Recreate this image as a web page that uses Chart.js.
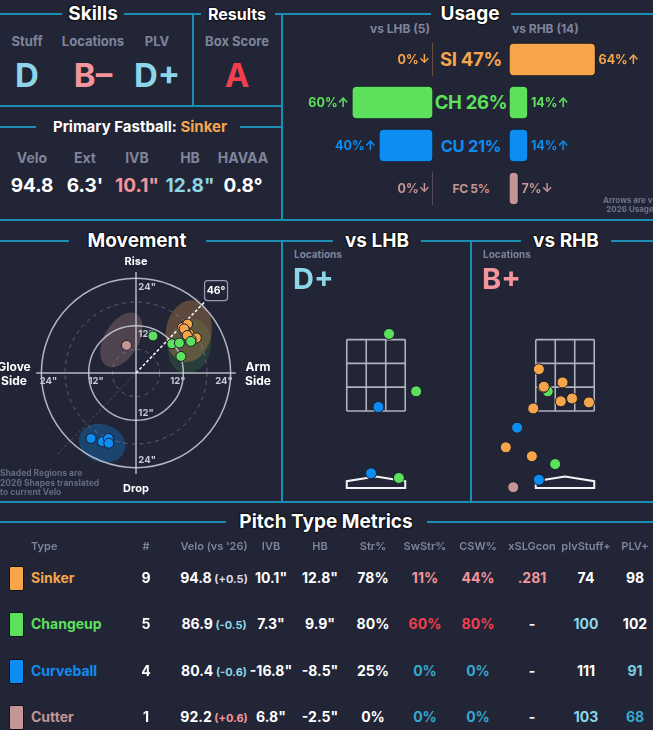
<!DOCTYPE html>
<html>
<head>
<meta charset="utf-8">
<script src="https://cdn.jsdelivr.net/npm/chart.js@4.4.1/dist/chart.umd.min.js"></script>
<style>
  body { margin: 0; background: #222536; font-family: Inter, 'DejaVu Sans', sans-serif; }
  #page { position: relative; width: 653px; height: 730px; overflow: hidden; background: #222536; }
  .hl { position: absolute; height: 2px; background: #1a8fb3; }
  .vl { position: absolute; width: 2px; background: #1a8fb3; }
  .t { position: absolute; white-space: nowrap; font-weight: 700; line-height: 1.15; }
  .ttl { text-shadow: 0 0 2px #000, 0 0 2px #000, 0 0 1px #000; }
  canvas { position: absolute; }
</style>
</head>
<body>
<div id="page">
  <canvas id="usageLeft" width="150" height="172" style="left:283px;top:38px"></canvas>
  <canvas id="usageRight" width="144" height="172" style="left:509px;top:38px"></canvas>
  <canvas id="movementChart" width="224" height="224" style="left:24px;top:261px"></canvas>
  <canvas id="locLHB" width="178" height="210" style="left:287px;top:290px"></canvas>
  <canvas id="locRHB" width="178" height="210" style="left:476px;top:290px"></canvas>
</div>
<script>
// ---- data ----
const pitchNames = ['Sinker', 'Changeup', 'Curveball', 'Cutter'];
const pitchAbbr = ['SI', 'CH', 'CU', 'FC'];
const pitchColors = ['#f6a54b', '#5de05c', '#0d8df2', '#c49595'];

const usageAll = [47, 26, 21, 5];
const usageLHB = [0, 60, 40, 0];
const usageRHB = [64, 14, 14, 7];
const arrowsLHB = ['↓', '↑', '↑', '↓'];
const arrowsRHB = ['↑', '↑', '↑', '↓'];

// movement (inches): horizontal break / induced vertical break per pitch
const mvSinkerHB = [11.8, 13.1, 12.4, 13.4, 12.6, 15.3, 14.0, 12.2, 13.0];
const mvSinkerIVB = [11.6, 12.4, 10.8, 10.0, 10.2, 8.9, 8.5, 11.2, 9.5];
const mvChangeHB = [4.3, 9.1, 11.0, 13.9, 11.4];
const mvChangeIVB = [9.4, 7.4, 7.6, 8.0, 4.2];
const mvCurveHB = [-11.4, -8.5, -7.0, -6.9];
const mvCurveIVB = [-16.6, -17.4, -16.6, -17.8];
const mvCutterHB = [-2.4];
const mvCutterIVB = [7.0];
const armAngle = 46;

// 2026 shapes (ellipses, inches)
const shapeCX = [-3.7, 13.6, 13.4, -8.6];
const shapeCY = [8.4, 6.8, 10.6, -17.8];
const shapeA = [7.6, 7.0, 7.9, 6.0];
const shapeB = [4.4, 5.4, 5.8, 4.8];
const shapeRot = [60, 75, 80, -20];
const shapeFill = ['rgba(196,149,149,0.28)', 'rgba(93,224,92,0.13)', 'rgba(246,165,75,0.28)', 'rgba(13,141,242,0.30)'];

// locations (feet): plate side / height, pitch index
const locLHBx = [0.37, 1.14, 0.07, -0.14, 0.65];
const locLHBz = [3.66, 2.05, 1.61, -0.25, -0.38];
const locLHBtype = [1, 1, 2, 2, 1];
const locRHBx = [-0.74, -0.07, -0.49, -0.62, -0.12, 0.20, 0.68, -0.90, -0.60, -1.36, -1.68, -0.94, -0.28, -0.74, -1.47];
const locRHBz = [2.67, 2.30, 2.05, 2.16, 1.77, 1.85, 1.74, 1.57, 2.18, 1.03, 0.48, 0.23, 0.01, -0.43, -0.64];
const locRHBtype = [0, 0, 1, 0, 0, 0, 0, 0, 0, 2, 0, 0, 1, 2, 3];

// table
const tblCount = [9, 5, 4, 1];
const tblVelo = [94.8, 86.9, 80.4, 92.2];
const tblVeloDiff = [0.5, -0.5, -0.6, 0.6];
const tblIVB = [10.1, 7.3, -16.8, 6.8];
const tblHB = [12.8, 9.9, -8.5, -2.5];
const tblStr = [78, 80, 25, 0];
const tblSwStr = [11, 60, 0, 0];
const tblCSW = [44, 80, 0, 0];
const tblXSLG = [0.281, null, null, null];
const tblStuff = [74, 100, 111, 103];
const tblPLV = [98, 102, 91, 68];

// ---- styles ----
const BG = '#222536';
const GRAY = '#7f849b';
const LBLUE = '#8dd6e8';
const PINK = '#f4959b';
const RED = '#f0404f';
const TEAL = '#35a9d0';
const tone = { w: '#ffffff', p: PINK, r: RED, t: TEAL, b: LBLUE, s: '#7ccbe0', g: '#dcdce4' };
const veloDiffTone = ['g', 'b', 'b', 'p'];
const swStrTone = ['p', 'r', 't', 't'];
const cswTone = ['p', 'r', 't', 't'];
const xslgTone = ['p', 'w', 'w', 'w'];
const stuffTone = ['w', 'b', 'w', 'b'];
const plvTone = ['w', 'w', 's', 't'];

const page = document.getElementById('page');

function addText(x, y, html, size, color, align, cls) {
  const d = document.createElement('div');
  d.className = 't' + (cls ? ' ' + cls : '');
  d.style.left = x + 'px';
  d.style.top = y + 'px';
  d.style.fontSize = size + 'px';
  d.style.color = color;
  const tx = align === 'left' ? '0' : align === 'right' ? '-100%' : '-50%';
  d.style.transform = `translate(${tx},-50%)`;
  d.innerHTML = html;
  page.appendChild(d);
  return d;
}

function hLine(y, x0, x1) {
  const d = document.createElement('div');
  d.className = 'hl';
  d.style.cssText = `left:${x0}px;top:${y - 1}px;width:${x1 - x0}px`;
  page.appendChild(d);
}

function vLine(x, y0, y1) {
  const d = document.createElement('div');
  d.className = 'vl';
  d.style.cssText = `left:${x - 1}px;top:${y0}px;height:${y1 - y0}px`;
  page.appendChild(d);
}

/**
 * Section frame lines and headings
 */
function initFrame() {
  [[0, 62], [124, 201], [275, 431], [511, 653]].forEach(s => hLine(14, s[0], s[1]));
  vLine(193, 14, 106);
  vLine(282, 14, 220);
  hLine(106, 0, 282);
  [[0, 36], [240, 282]].forEach(s => hLine(127, s[0], s[1]));
  hLine(220, 0, 653);
  [[0, 69], [206, 333], [421, 521], [611, 653]].forEach(s => hLine(241, s[0], s[1]));
  vLine(282, 241, 502);
  vLine(471, 241, 502);
  hLine(502, 0, 653);
  [[0, 226], [427, 653]].forEach(s => hLine(522, s[0], s[1]));

  addText(93, 14, 'Skills', 19, '#fff', 'center', 'ttl');
  addText(237, 14, 'Results', 16, '#fff', 'center', 'ttl');
  addText(470, 14, 'Usage', 19, '#fff', 'center', 'ttl');
  addText(137, 241, 'Movement', 19, '#fff', 'center', 'ttl');
  addText(377, 241, 'vs LHB', 19, '#fff', 'center', 'ttl');
  addText(566, 241, 'vs RHB', 19, '#fff', 'center', 'ttl');
  addText(326, 522, 'Pitch Type Metrics', 19, '#fff', 'center', 'ttl');
}

/**
 * Skills grades and primary fastball summary
 */
function initSkills() {
  addText(27, 41, 'Stuff', 13, GRAY, 'center');
  addText(93, 41, 'Locations', 13, GRAY, 'center');
  addText(157, 41, 'PLV', 13, GRAY, 'center');
  addText(237, 41, 'Box Score', 13, GRAY, 'center');
  addText(27, 76, 'D', 33, LBLUE, 'center');
  addText(93, 76, 'B–', 33, PINK, 'center');
  addText(157, 76, 'D+', 33, LBLUE, 'center');
  addText(237, 76, 'A', 33, RED, 'center');

  addText(140, 127, 'Primary Fastball: <span style="color:' + pitchColors[0] + '">Sinker</span>', 15, '#fff', 'center');
  const labels = ['Velo', 'Ext', 'IVB', 'HB', 'HAVAA'];
  const values = ['94.8', "6.3'", '10.1"', '12.8"', '0.8°'];
  const colors = ['#fff', '#fff', PINK, LBLUE, '#fff'];
  const xs = [32, 85, 137, 190, 243];
  labels.forEach((l, i) => {
    addText(xs[i], 158, l, 14, GRAY, 'center');
    addText(xs[i], 186, values[i], 19, colors[i], 'center');
  });
}

// draws "NN%↑" at the end of each bar
const barLabelPlugin = {
  id: 'barLabels',
  afterDatasetsDraw(chart, args, opts) {
    const ctx = chart.ctx;
    const meta = chart.getDatasetMeta(0);
    ctx.save();
    ctx.font = '700 12.5px Inter, sans-serif';
    ctx.textBaseline = 'middle';
    meta.data.forEach((bar, i) => {
      ctx.fillStyle = pitchColors[i];
      const label = opts.values[i] + '%' + opts.arrows[i];
      if (opts.side === 'left') {
        ctx.textAlign = 'right';
        ctx.fillText(label, bar.x - 3, bar.y + 1);
      } else {
        ctx.textAlign = 'left';
        ctx.fillText(label, bar.x + 3, bar.y + 1);
      }
    });
    ctx.restore();
  }
};

function usageChart(id, values, arrows, side, max) {
  return new Chart(document.getElementById(id), {
    type: 'bar',
    data: {
      labels: pitchAbbr,
      datasets: [{
        data: values,
        backgroundColor: pitchColors,
        borderColor: '#151824',
        borderWidth: c => (c.raw ? 1 : 0),
        borderRadius: 5,
        borderSkipped: false,
        barThickness: 33
      }]
    },
    options: {
      indexAxis: 'y',
      responsive: false,
      animation: false,
      layout: { padding: 0 },
      plugins: {
        legend: { display: false },
        tooltip: { enabled: false },
        barLabels: { values: values, arrows: arrows, side: side }
      },
      scales: {
        x: { display: false, min: 0, max: max, reverse: side === 'left' },
        y: { display: false }
      }
    },
    plugins: [barLabelPlugin]
  });
}

/**
 * Usage split by batter hand
 */
function initUsage() {
  addText(430, 29, 'vs LHB (5)', 12, GRAY, 'right');
  addText(512, 29, 'vs RHB (14)', 12, GRAY, 'left');
  const sizes = [18.5, 18.5, 16.5, 12];
  const rowY = [60, 103, 146, 189];
  pitchAbbr.forEach((a, i) => {
    const el = addText(471, rowY[i], a + ' ' + usageAll[i] + '%', sizes[i], pitchColors[i], 'center');
    el.style.letterSpacing = '-0.3px';
  });
  const note = addText(630, 205, 'Arrows are vs<br>2026 Usage', 8, '#6f748a', 'center');
  note.style.textAlign = 'center';

  usageChart('usageLeft', usageLHB, arrowsLHB, 'left', 111);
  usageChart('usageRight', usageRHB, arrowsRHB, 'right', 106.5);
}

// rings, axes, shaded shapes and arm angle behind the movement points
const movementGrid = {
  id: 'movementGrid',
  beforeDatasetsDraw(chart) {
    const { ctx, scales: { x, y } } = chart;
    const px = v => x.getPixelForValue(v);
    const py = v => y.getPixelForValue(v);
    const ppi = px(1) - px(0);
    const cx = px(0), cy = py(0);
    ctx.save();

    shapeCX.forEach((sx, i) => {
      ctx.beginPath();
      ctx.ellipse(px(sx), py(shapeCY[i]), shapeA[i] * ppi, shapeB[i] * ppi,
        -shapeRot[i] * Math.PI / 180, 0, Math.PI * 2);
      ctx.fillStyle = shapeFill[i];
      ctx.fill();
    });

    [6, 18].forEach(r => {
      ctx.beginPath();
      ctx.setLineDash([4, 4]);
      ctx.strokeStyle = 'rgba(160,165,185,0.45)';
      ctx.lineWidth = 1;
      ctx.arc(cx, cy, r * ppi, 0, Math.PI * 2);
      ctx.stroke();
    });
    ctx.setLineDash([]);
    [12, 24].forEach(r => {
      ctx.beginPath();
      ctx.strokeStyle = 'rgba(205,208,220,0.85)';
      ctx.lineWidth = 1.5;
      ctx.arc(cx, cy, r * ppi, 0, Math.PI * 2);
      ctx.stroke();
    });

    ctx.strokeStyle = 'rgba(205,208,220,0.85)';
    ctx.lineWidth = 1.5;
    ctx.beginPath();
    ctx.moveTo(px(-25.3), cy); ctx.lineTo(px(25.3), cy);
    ctx.moveTo(cx, py(25.6)); ctx.lineTo(cx, py(-25.6));
    ctx.stroke();

    // arm angle
    const rad = armAngle * Math.PI / 180;
    ctx.beginPath();
    ctx.setLineDash([3, 2]);
    ctx.strokeStyle = 'rgba(150,155,175,0.35)';
    ctx.lineWidth = 1;
    ctx.moveTo(cx, cy);
    ctx.lineTo(px(-29 * Math.cos(rad)), py(-29 * Math.sin(rad)));
    ctx.stroke();
    ctx.beginPath();
    ctx.strokeStyle = '#ffffff';
    ctx.lineWidth = 1.5;
    ctx.moveTo(cx, cy);
    ctx.lineTo(px(25 * Math.cos(rad)), py(25 * Math.sin(rad)));
    ctx.stroke();
    ctx.setLineDash([]);

    // ring labels
    ctx.font = '700 9.5px Inter, sans-serif';
    ctx.fillStyle = '#c6c9d4';
    ctx.textBaseline = 'middle';
    ctx.textAlign = 'left';
    [[21.8, 24], [9.8, 12], [-10.2, 12], [-22.2, 24]].forEach(p => {
      ctx.fillText(p[1] + '"', px(0.6), py(p[0]));
    });
    ctx.textAlign = 'center';
    [[-22.2, 24], [-10.1, 12], [10.6, 12], [22.3, 24]].forEach(p => {
      ctx.fillText(p[1] + '"', px(p[0]), py(-2));
    });
    ctx.restore();
  },
  afterDatasetsDraw(chart) {
    const { ctx, scales: { x, y } } = chart;
    const bx = x.getPixelForValue(20.3), by = y.getPixelForValue(20.9);
    ctx.save();
    ctx.beginPath();
    ctx.roundRect(bx - 11.5, by - 10, 23, 20, 3);
    ctx.fillStyle = BG;
    ctx.fill();
    ctx.strokeStyle = '#9a9eb0';
    ctx.lineWidth = 1.2;
    ctx.stroke();
    ctx.fillStyle = '#fff';
    ctx.font = '700 10.5px Inter, sans-serif';
    ctx.textAlign = 'center';
    ctx.textBaseline = 'middle';
    ctx.fillText(armAngle + '°', bx, by + 0.5);
    ctx.restore();
  }
};

/**
 * Pitch movement plot
 */
function initMovement() {
  const hb = [mvSinkerHB, mvChangeHB, mvCurveHB, mvCutterHB];
  const ivb = [mvSinkerIVB, mvChangeIVB, mvCurveIVB, mvCutterIVB];
  const datasets = [3, 2, 1, 0].map(i => ({
    data: hb[i].map((v, j) => ({ x: v, y: ivb[i][j] })),
    backgroundColor: pitchColors[i],
    borderColor: '#1a1d2b',
    borderWidth: 1,
    pointRadius: 5
  }));
  const R = 26.88;
  new Chart(document.getElementById('movementChart'), {
    type: 'scatter',
    data: { datasets: datasets },
    options: {
      responsive: false,
      animation: false,
      layout: { padding: 0 },
      plugins: { legend: { display: false }, tooltip: { enabled: false } },
      scales: {
        x: { display: false, min: -R, max: R },
        y: { display: false, min: -R, max: R }
      }
    },
    plugins: [movementGrid]
  });

  addText(136, 261, 'Rise', 11, '#fff', 'center');
  addText(136, 488, 'Drop', 11, '#fff', 'center');
  addText(14, 374, 'Glove<br>Side', 12, '#fff', 'center').style.textAlign = 'center';
  addText(258, 374, 'Arm<br>Side', 12, '#fff', 'center').style.textAlign = 'center';
  const n = addText(0, 483, 'Shaded Regions are<br>2026 Shapes translated<br>to current Velo', 8.5, '#656a80', 'left');
  n.style.lineHeight = '1.12';
}

// strike zone grid and home plate
const zonePlugin = {
  id: 'zone',
  beforeDatasetsDraw(chart) {
    const { ctx, scales: { x, y } } = chart;
    const px = v => x.getPixelForValue(v);
    const py = v => y.getPixelForValue(v);
    const x0 = -0.83, x1 = 0.83, z0 = 1.5, z1 = 3.5;
    ctx.save();
    ctx.strokeStyle = 'rgba(200,203,215,0.85)';
    ctx.lineWidth = 1.6;
    ctx.beginPath();
    for (let k = 0; k <= 3; k++) {
      const xv = x0 + (x1 - x0) * k / 3;
      const zv = z0 + (z1 - z0) * k / 3;
      ctx.moveTo(px(xv), py(z0)); ctx.lineTo(px(xv), py(z1));
      ctx.moveTo(px(x0), py(zv)); ctx.lineTo(px(x1), py(zv));
    }
    ctx.stroke();

    ctx.strokeStyle = '#f2f2f6';
    ctx.lineWidth = 2;
    ctx.beginPath();
    ctx.moveTo(px(x0), py(-0.66));
    ctx.lineTo(px(x0), py(-0.47));
    ctx.lineTo(px(0), py(-0.34));
    ctx.lineTo(px(x1), py(-0.47));
    ctx.lineTo(px(x1), py(-0.66));
    ctx.closePath();
    ctx.stroke();
    ctx.restore();
  }
};

function locationChart(id, xs, zs, types) {
  const datasets = [0, 1, 2, 3].map(i => ({
    data: xs.map((v, j) => ({ x: v, y: zs[j], t: types[j] })).filter(p => p.t === i),
    backgroundColor: pitchColors[i],
    borderColor: '#1a1d2b',
    borderWidth: 1,
    pointRadius: 5.5
  }));
  new Chart(document.getElementById(id), {
    type: 'scatter',
    data: { datasets: datasets },
    options: {
      responsive: false,
      animation: false,
      layout: { padding: 0 },
      plugins: { legend: { display: false }, tooltip: { enabled: false } },
      scales: {
        x: { display: false, min: -2.342, max: 2.342 },
        y: { display: false, min: -0.816, max: 4.71 }
      }
    },
    plugins: [zonePlugin]
  });
}

/**
 * Pitch locations vs each batter hand
 */
function initLocations() {
  addText(294, 255, 'Locations', 10, GRAY, 'left');
  addText(293, 279, 'D+', 29, LBLUE, 'left');
  addText(483, 255, 'Locations', 10, GRAY, 'left');
  addText(482, 279, 'B+', 29, PINK, 'left');
  locationChart('locLHB', locLHBx, locLHBz, locLHBtype);
  locationChart('locRHB', locRHBx, locRHBz, locRHBtype);
}

/**
 * Pitch type metrics table
 */
function initTable() {
  const colX = [146, 214, 271, 320, 373, 425, 478, 532, 586, 635];
  const heads = ['#', "Velo (vs '26)", 'IVB', 'HB', 'Str%', 'SwStr%', 'CSW%', 'xSLGcon', 'plvStuff+', 'PLV+'];
  addText(31, 546, 'Type', 11, GRAY, 'left').style.fontWeight = 600;
  heads.forEach((h, k) => { addText(colX[k], 546, h, 11, GRAY, 'center').style.fontWeight = 600; });

  const rowY = [578, 624, 671, 717];
  pitchNames.forEach((name, i) => {
    const y = rowY[i];
    const sw = document.createElement('div');
    sw.style.cssText = `position:absolute;left:9px;top:${y - 12}px;width:13px;height:23px;` +
      `background:${pitchColors[i]};border:1px solid #11131c;border-radius:2px`;
    page.appendChild(sw);
    addText(31, y, name, 14, pitchColors[i], 'left');

    const d = tblVeloDiff[i];
    const velo = tblVelo[i].toFixed(1) + `<span style="font-size:11px;color:${tone[veloDiffTone[i]]}"> (${d > 0 ? '+' : ''}${d.toFixed(1)})</span>`;
    const cells = [
      [String(tblCount[i]), 'w'],
      [velo, 'w'],
      [tblIVB[i].toFixed(1) + '"', 'w'],
      [tblHB[i].toFixed(1) + '"', 'w'],
      [tblStr[i] + '%', 'w'],
      [tblSwStr[i] + '%', swStrTone[i]],
      [tblCSW[i] + '%', cswTone[i]],
      [tblXSLG[i] === null ? '-' : tblXSLG[i].toFixed(3).replace(/^0/, ''), xslgTone[i]],
      [String(tblStuff[i]), stuffTone[i]],
      [String(tblPLV[i]), plvTone[i]]
    ];
    cells.forEach((c, k) => addText(colX[k], y, c[0], 14, tone[c[1]], 'center'));
  });
}

initFrame();
initSkills();
initUsage();
initMovement();
initLocations();
initTable();
</script>
</body>
</html>
